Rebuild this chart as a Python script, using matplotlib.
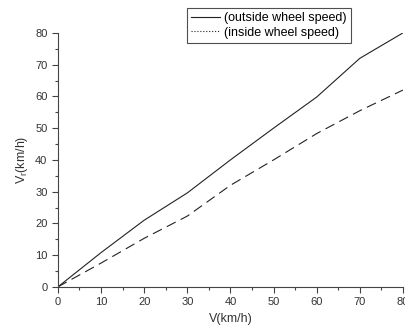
import matplotlib
matplotlib.use("Agg")
import matplotlib.pyplot as plt
from matplotlib.lines import Line2D
from matplotlib.ticker import MultipleLocator

plt.rcParams["font.family"] = ["Liberation Sans", "DejaVu Sans"]
plt.rcParams["mathtext.fontset"] = "custom"
plt.rcParams["mathtext.rm"] = "Liberation Sans"
plt.rcParams["mathtext.it"] = "Liberation Sans"

# vehicle speed (km/h)
speed = [0, 10, 20, 30, 40, 50, 60, 70, 80]
# wheel speeds (km/h)
outside = [0, 10.8, 21, 29.6, 40, 50, 59.8, 72, 80]
inside = [0, 7.5, 15.3, 22.3, 32, 40, 48.3, 55.5, 62]

fig = plt.figure(figsize=(4.05, 3.29), dpi=100)
ax = fig.add_axes([0.143, 0.128, 0.852, 0.772])

ax.plot(speed, outside, color="#222222", lw=0.8, ls="-")
ax.plot(speed, inside, color="#222222", lw=0.8, ls=(0, (9, 5)))

ax.set_xlim(0, 80)
ax.set_ylim(0, 80)
ax.xaxis.set_major_locator(MultipleLocator(10))
ax.xaxis.set_minor_locator(MultipleLocator(5))
ax.yaxis.set_major_locator(MultipleLocator(10))
ax.yaxis.set_minor_locator(MultipleLocator(5))
ax.spines["top"].set_visible(False)
ax.spines["right"].set_visible(False)
for s in ("left", "bottom"):
    ax.spines[s].set_color("#444444")
ax.tick_params(which="major", length=4, width=0.8, color="#444444",
               labelsize=8, labelcolor="#333333")
ax.tick_params(which="minor", length=2.5, width=0.8, color="#444444")

ax.set_xlabel("V(km/h)", fontsize=9, color="#333333", labelpad=4)
ax.set_ylabel("V$_r$(km/h)", fontsize=9, color="#333333", labelpad=4)

# legend as in the figure: solid for outside, dotted for inside
handles = [Line2D([], [], color="#222222", lw=0.8, ls="-"),
           Line2D([], [], color="#222222", lw=0.8, ls=":")]
leg = fig.legend(handles, ["(outside wheel speed)", "(inside wheel speed)"],
                 loc="upper left", bbox_to_anchor=(0.462, 0.976),
                 fontsize=9, frameon=True, fancybox=False,
                 handlelength=2.3, handletextpad=0.3, borderpad=0.35,
                 labelspacing=0.2, borderaxespad=0)
leg.get_frame().set_edgecolor("#222222")
leg.get_frame().set_linewidth(0.8)

fig.savefig("out.png", dpi=100)
